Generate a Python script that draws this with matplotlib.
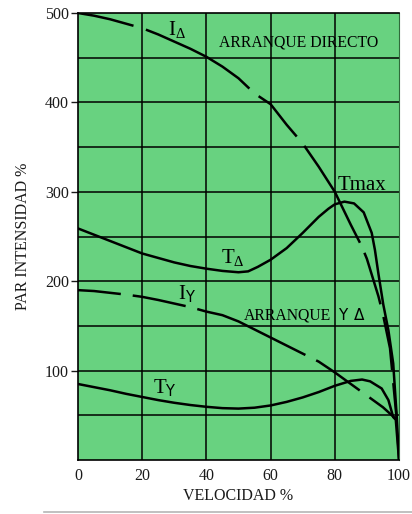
import matplotlib
matplotlib.use("Agg")
import matplotlib.pyplot as plt
from matplotlib.lines import Line2D

plt.rcParams['font.family'] = ['Liberation Serif', 'DejaVu Serif']
plt.rcParams['mathtext.fontset'] = 'custom'
plt.rcParams['mathtext.rm'] = 'Liberation Serif'
plt.rcParams['mathtext.sf'] = 'DejaVu Sans'
plt.rcParams['lines.scale_dashes'] = False

# ---- data ----
td_x = [0, 5, 10, 15, 20, 25, 30, 35, 40, 45, 50, 53, 56, 60, 65, 70, 75, 78, 80, 83, 86, 89,
        91.5, 92.5, 93.6, 95.1, 96.7, 98.2, 99.3, 100]
td_y = [259, 252, 245, 238, 231, 226, 221, 217, 214, 211.5, 210, 211, 216, 224, 237, 254, 272,
        281, 286, 289, 287, 277, 254, 235, 208, 174, 145, 108, 48, 0]

ty_x = [0, 5, 10, 15, 20, 25, 30, 35, 40, 45, 50, 55, 60, 65, 70, 75, 80, 85, 88.5, 91,
        94.6, 96.7, 98.2, 99, 100]
ty_y = [85, 81.5, 78, 74, 70.5, 67, 64, 61.5, 59.5, 58, 57.5, 58.5, 61, 65, 70, 76, 83, 88.5,
        90, 88, 80, 67, 48, 45, 0]

id_x = [0, 5, 10, 15, 20, 25, 30, 35, 40, 45, 50, 55, 60, 65, 70, 75, 80, 85, 88.4, 90,
        93.6, 95, 97.2, 99.3]
id_y = [500, 497, 493, 488, 483, 476, 468, 460, 451, 440, 427, 410, 398, 375, 354, 328, 300,
        263, 239, 225, 183, 163, 125, 45]

iy_x = [0, 5, 10, 15, 20, 25, 30, 35, 40, 45, 50, 55, 60, 65, 70, 75, 80, 85, 90, 95, 99]
iy_y = [190, 189, 187, 185, 182.5, 179, 175, 171, 166, 162, 155, 146, 137, 128, 119, 110, 98,
        85, 72, 59, 46]

x_ticks = [0, 20, 40, 60, 80, 100]
y_ticks = [100, 200, 300, 400, 500]

GREEN = '#68d280'
PX = 72.0 / 100.0  # points per pixel

fig = plt.figure(figsize=(4.12, 5.14), dpi=100)
ax = fig.add_axes([78 / 412, 54 / 514, 321 / 412, 447 / 514])
ax.set_facecolor(GREEN)
ax.set_xlim(0, 100)
ax.set_ylim(0, 500)

# grid
for gx in [20, 40, 60, 80]:
    ax.axvline(gx, color='black', lw=1.1, zorder=1)
for gy in range(50, 500, 50):
    ax.axhline(gy, color='black', lw=1.1, zorder=1)

lw = 1.8
ax.plot(td_x, td_y, color='black', lw=lw, zorder=3, solid_capstyle='round')
ax.plot(ty_x, ty_y, color='black', lw=lw, zorder=3, solid_capstyle='round')
d1 = [v * PX for v in (57, 13, 120, 12, 56, 12, 112, 11, 54, 13, 54, 13, 200)]
ax.plot(id_x, id_y, color='black', lw=lw, zorder=3, dashes=d1)
d2 = [v * PX for v in (43, 12, 54, 12, 118, 12, 53, 12, 200)]
ax.plot(iy_x, iy_y, color='black', lw=lw, zorder=3, dashes=d2)

# ticks
ax.set_xticks(x_ticks)
ax.set_yticks(y_ticks)
ax.tick_params(axis='x', length=0, pad=6, labelsize=11.5, colors='#1a1a1a')
ax.tick_params(axis='y', length=5, width=1.0, pad=1.5, labelsize=11.5, colors='#1a1a1a')
for s in ['left', 'bottom', 'top']:
    ax.spines[s].set_linewidth(1.2)
ax.spines['right'].set_linewidth(0.8)
ax.spines['right'].set_color('#2f6a3a')

ax.set_xlabel('VELOCIDAD %', fontsize=11.5, labelpad=3, color='#1a1a1a')
ax.set_ylabel('PAR INTENSIDAD %', fontsize=11.5, labelpad=10, color='#1a1a1a')

# annotations
fs = 15
ax.text(28, 475, r'$\mathrm{I}_{\Delta}$', fontsize=fs, ha='left', va='baseline', zorder=4)
ax.text(44.7, 220, r'$\mathrm{T}_{\Delta}$', fontsize=fs, ha='left', va='baseline', zorder=4)
ax.text(31.2, 180, r'$\mathrm{I}_{\mathsf{Y}}$', fontsize=fs, ha='left', va='baseline', zorder=4)
ax.text(23.4, 74, r'$\mathrm{T}_{\mathsf{Y}}$', fontsize=fs, ha='left', va='baseline', zorder=4)
ax.text(80.9, 307, 'Tmax', fontsize=15, ha='left', va='center', zorder=4)
ax.text(43.9, 467, 'ARRANQUE DIRECTO', fontsize=11.3, ha='left', va='center', zorder=4)
ax.text(51.8, 162, 'ARRANQUE', fontsize=11.3, ha='left', va='center', zorder=4)
ax.text(80.9, 162, 'Y', fontsize=11, ha='left', va='center', zorder=4,
        family=['DejaVu Sans'])
ax.text(85.8, 162, 'Δ', fontsize=11, ha='left', va='center', zorder=4,
        family=['DejaVu Sans'])

fig.add_artist(Line2D([44 / 412, 1.0], [2.5 / 514, 2.5 / 514], transform=fig.transFigure,
                      color='#b5b5b5', lw=1.2))

fig.savefig('out.png', dpi=100)
